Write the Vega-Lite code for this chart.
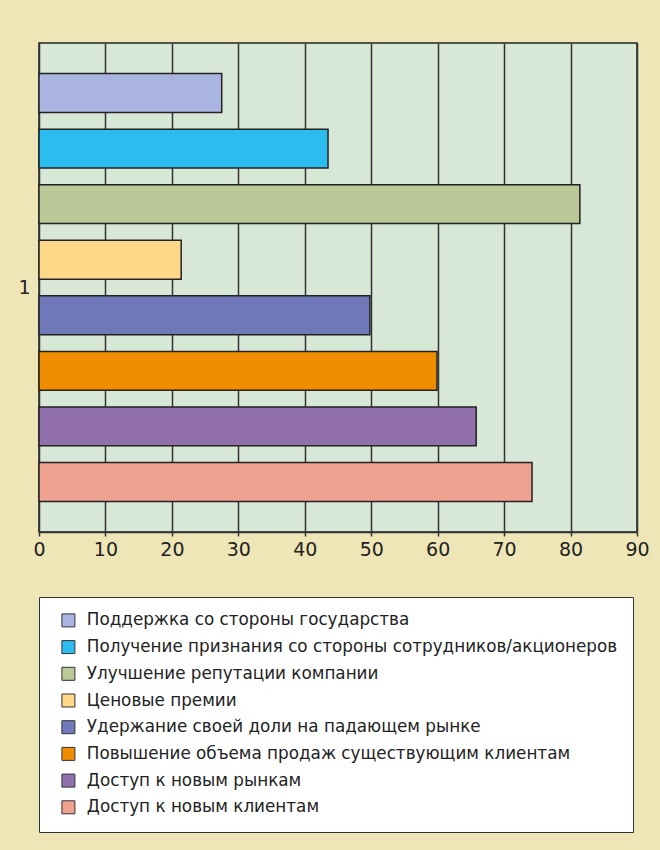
{
  "$schema": "https://vega.github.io/schema/vega-lite/v6.json",
  "width": 598,
  "height": 489,
  "autosize": {"type": "none"},
  "padding": {"left": 39, "top": 43, "right": 23, "bottom": 318},
  "background": "#eee6b6",
  "data": {
    "values": [
      {"g": "1", "series": "Поддержка со стороны государства", "value": 27.5},
      {"g": "1", "series": "Получение признания со стороны сотрудников/акционеров", "value": 43.5},
      {"g": "1", "series": "Улучшение репутации компании", "value": 81.4},
      {"g": "1", "series": "Ценовые премии", "value": 21.4},
      {"g": "1", "series": "Удержание своей доли на падающем рынке", "value": 49.8},
      {"g": "1", "series": "Повышение объема продаж существующим клиентам", "value": 59.9},
      {"g": "1", "series": "Доступ к новым рынкам", "value": 65.8},
      {"g": "1", "series": "Доступ к новым клиентам", "value": 74.2}
    ]
  },
  "mark": {"type": "bar", "stroke": "#222222", "strokeWidth": 1.5},
  "encoding": {
    "y": {
      "field": "g", "type": "nominal",
      "scale": {"paddingOuter": 0.05, "paddingInner": 0},
      "axis": {"title": null, "domain": false, "ticks": false, "labelFontSize": 19, "labelFont": "DejaVu Sans", "labelColor": "#222222", "labelPadding": 9, "labelAngle": 0}
    },
    "yOffset": {
      "field": "series", "type": "nominal",
      "sort": [
        "Поддержка со стороны государства",
        "Получение признания со стороны сотрудников/акционеров",
        "Улучшение репутации компании",
        "Ценовые премии",
        "Удержание своей доли на падающем рынке",
        "Повышение объема продаж существующим клиентам",
        "Доступ к новым рынкам",
        "Доступ к новым клиентам"
      ],
      "scale": {"paddingInner": 0.3, "paddingOuter": 0.15}
    },
    "x": {
      "field": "value", "type": "quantitative",
      "scale": {"domain": [0, 90], "nice": false},
      "axis": {
        "title": null, "values": [0, 10, 20, 30, 40, 50, 60, 70, 80, 90],
        "grid": true, "gridColor": "#333333", "gridWidth": 1.5, "gridOpacity": 1,
        "domainColor": "#333333", "domainWidth": 1.5,
        "tickColor": "#333333", "tickSize": 4, "tickWidth": 1.5,
        "labelFontSize": 19, "labelFont": "DejaVu Sans", "labelColor": "#222222", "labelPadding": 4,
        "labelFlush": false
      }
    },
    "color": {
      "field": "series", "type": "nominal",
      "sort": [
        "Поддержка со стороны государства",
        "Получение признания со стороны сотрудников/акционеров",
        "Улучшение репутации компании",
        "Ценовые премии",
        "Удержание своей доли на падающем рынке",
        "Повышение объема продаж существующим клиентам",
        "Доступ к новым рынкам",
        "Доступ к новым клиентам"
      ],
      "scale": {"range": ["#a9b5e0", "#2bbcf0", "#bac797", "#fcd888", "#6f78b8", "#f08c00", "#9170ac", "#f0a290"]},
      "legend": {
        "title": null, "orient": "none", "legendX": 0, "legendY": 554,
        "fillColor": "#ffffff", "strokeColor": "#333333",
        "padding": 15, "symbolType": "square", "symbolSize": 169,
        "symbolStrokeColor": "#333333", "symbolStrokeWidth": 1, "symbolOpacity": 1,
        "symbolOffset": 6, "labelOffset": 10,
        "labelFontSize": 16.8, "labelFont": "DejaVu Sans", "labelColor": "#222222",
        "rowPadding": 7.7, "labelLimit": 0, "columns": 1
      }
    }
  },
  "config": {
    "view": {"fill": "#d7e8d7", "stroke": "#222222", "strokeWidth": 1.5}
  }
}
